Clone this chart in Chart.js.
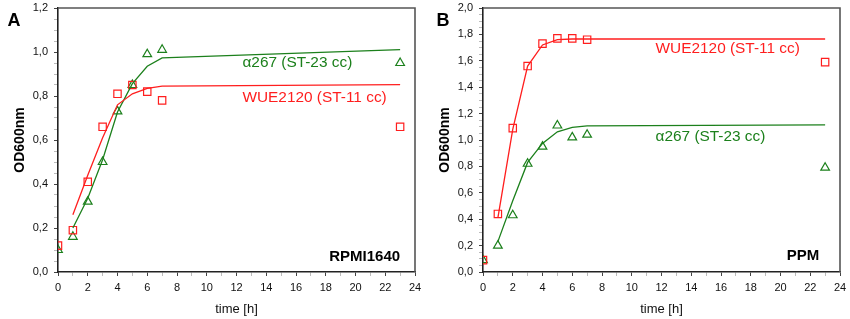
<!DOCTYPE html>
<html>
<head>
<meta charset="utf-8">
<script src="https://cdn.jsdelivr.net/npm/chart.js@4"></script>
<style>
  html, body { margin: 0; padding: 0; background: #fff; }
  .panel { position: absolute; top: 0; width: 425px; height: 319px; }
  #panelA { left: 0; }
  #panelB { left: 425px; }
</style>
</head>
<body>
<div class="panel" id="panelA"><canvas id="chartA" width="425" height="319"></canvas></div>
<div class="panel" id="panelB"><canvas id="chartB" width="425" height="319"></canvas></div>
<script>
// Growth curves of two isolates in RPMI1640 (A) and PPM (B)

// measured OD600 values
const hours = [0, 1, 2, 3, 4, 5, 6, 7, 23];
const rpmiWue = [0.12, 0.19, 0.41, 0.66, 0.81, 0.85, 0.82, 0.78, 0.66];
const rpmiAlpha = [0.10, 0.16, 0.32, 0.50, 0.73, 0.85, 0.99, 1.01, 0.95];
const ppmWue = [0.09, 0.44, 1.09, 1.56, 1.73, 1.77, 1.77, 1.76, 1.59];
const ppmAlpha = [0.09, 0.20, 0.43, 0.82, 0.95, 1.11, 1.02, 1.04, 0.79];

// fitted curves
const fitHours = [1, 2, 3, 4, 5, 6, 7, 23];
const rpmiWueFit = [0.26, 0.44, 0.61, 0.76, 0.81, 0.835, 0.845, 0.852];
const rpmiAlphaFit = [0.20, 0.335, 0.51, 0.727, 0.856, 0.935, 0.973, 1.011];
const ppmWueFit = [0.41, 1.08, 1.56, 1.72, 1.76, 1.765, 1.765, 1.765];
const ppmAlphaFit = [0.23, 0.54, 0.83, 0.974, 1.062, 1.095, 1.107, 1.115];

const RED = 'rgb(255, 30, 30)';
const GREEN = 'rgb(28, 128, 28)';
const FONT = "'Liberation Sans', Arial, sans-serif";

function pairs(xs, ys) {
    return xs.map((x, i) => ({ x, y: ys[i] }));
}

function comma(v) {
    return v.toFixed(1).replace('.', ',');
}

// draws the box, curve labels, medium name and panel letter
const decorPlugin = {
    id: 'decor',
    afterDraw(chart, args, opts) {
        const { ctx, chartArea: a, scales } = chart;
        ctx.save();
        ctx.strokeStyle = '#555';
        ctx.lineWidth = 1.6;
        ctx.beginPath();
        ctx.moveTo(a.left, a.top);
        ctx.lineTo(a.right, a.top);
        ctx.lineTo(a.right, a.bottom);
        ctx.stroke();

        ctx.textBaseline = 'middle';
        (opts.labels || []).forEach(l => {
            ctx.font = (l.bold ? 'bold ' : '') + l.size + 'px ' + FONT;
            ctx.fillStyle = l.color;
            ctx.textAlign = l.align || 'left';
            ctx.fillText(l.text, scales.x.getPixelForValue(l.x), scales.y.getPixelForValue(l.y));
        });

        ctx.font = 'bold 18px ' + FONT;
        ctx.fillStyle = '#000';
        ctx.textAlign = 'center';
        ctx.fillText(opts.letter, opts.letterX, 21);
        ctx.restore();
    }
};

function makeChart(canvasId, wue, alpha, wueFit, alphaFit, yMax, decor) {
    const ctx = document.getElementById(canvasId);
    return new Chart(ctx, {
        type: 'scatter',
        data: {
            datasets: [
                {
                    type: 'line',
                    data: pairs(fitHours, wueFit),
                    borderColor: RED,
                    borderWidth: 1.3,
                    pointRadius: 0,
                    fill: false,
                    tension: 0
                },
                {
                    type: 'line',
                    data: pairs(fitHours, alphaFit),
                    borderColor: GREEN,
                    borderWidth: 1.3,
                    pointRadius: 0,
                    fill: false,
                    tension: 0
                },
                {
                    data: pairs(hours, wue),
                    pointStyle: 'rect',
                    pointRadius: 5.2,
                    borderColor: RED,
                    backgroundColor: 'rgba(0,0,0,0)',
                    borderWidth: 1.2
                },
                {
                    data: pairs(hours, alpha),
                    pointStyle: 'triangle',
                    pointRadius: 5,
                    borderColor: GREEN,
                    backgroundColor: 'rgba(0,0,0,0)',
                    borderWidth: 1.2
                }
            ]
        },
        options: {
            responsive: false,
            animation: false,
            layout: { padding: { left: 0, right: 10, top: 8, bottom: 0 } },
            plugins: {
                legend: { display: false },
                tooltip: { enabled: false },
                decor
            },
            scales: {
                x: {
                    type: 'linear',
                    min: 0,
                    max: 24,
                    afterFit(s) { s.height = 47; s.paddingLeft = 0; s.paddingRight = 0; },
                    border: { display: true, color: '#222', width: 1.6 },
                    grid: {
                        drawOnChartArea: false,
                        drawTicks: true,
                        tickLength: 4,
                        tickColor: c => (c.tick && c.tick.value % 2 === 0) ? '#444' : '#bbb'
                    },
                    ticks: {
                        stepSize: 1,
                        autoSkip: false,
                        maxRotation: 0,
                        padding: 5,
                        color: '#111',
                        font: { family: FONT, size: 11 },
                        callback: v => (v % 2 === 0 ? String(v) : '')
                    },
                    title: {
                        display: true,
                        text: 'time [h]',
                        color: '#111',
                        font: { family: FONT, size: 13 },
                        padding: { top: 0, bottom: 2 }
                    }
                },
                y: {
                    type: 'linear',
                    min: 0,
                    max: yMax,
                    afterFit(s) { s.width = 58; s.paddingTop = 0; s.paddingBottom = 0; },
                    border: { display: true, color: '#222', width: 1.6 },
                    grid: {
                        drawOnChartArea: false,
                        drawTicks: true,
                        tickLength: 4,
                        tickColor: c => (c.tick && Math.round(c.tick.value * 100) % 20 === 0) ? '#444' : '#bbb'
                    },
                    ticks: {
                        stepSize: 0.05,
                        autoSkip: false,
                        padding: 6,
                        color: '#111',
                        font: { family: FONT, size: 11 },
                        callback: v => (Math.round(v * 100) % 20 === 0 ? comma(v) : '')
                    },
                    title: {
                        display: true,
                        text: 'OD600nm',
                        color: '#000',
                        font: { family: FONT, size: 14, weight: 'bold' },
                        padding: { top: 12, bottom: 0 }
                    }
                }
            }
        },
        plugins: [decorPlugin]
    });
}

makeChart('chartA', rpmiWue, rpmiAlpha, rpmiWueFit, rpmiAlphaFit, 1.2, {
    letter: 'A',
    letterX: 14,
    labels: [
        { text: 'α267 (ST-23 cc)', x: 12.4, y: 0.95, color: GREEN, size: 15.4 },
        { text: 'WUE2120 (ST-11 cc)', x: 12.4, y: 0.79, color: RED, size: 15.4 },
        { text: 'RPMI1640', x: 23.0, y: 0.07, color: '#000', size: 15, bold: true, align: 'right' }
    ]
});

makeChart('chartB', ppmWue, ppmAlpha, ppmWueFit, ppmAlphaFit, 2.0, {
    letter: 'B',
    letterX: 18,
    labels: [
        { text: 'WUE2120 (ST-11 cc)', x: 11.6, y: 1.69, color: RED, size: 15.4 },
        { text: 'α267 (ST-23 cc)', x: 11.6, y: 1.025, color: GREEN, size: 15.4 },
        { text: 'PPM', x: 22.6, y: 0.12, color: '#000', size: 15, bold: true, align: 'right' }
    ]
});
</script>
</body>
</html>
